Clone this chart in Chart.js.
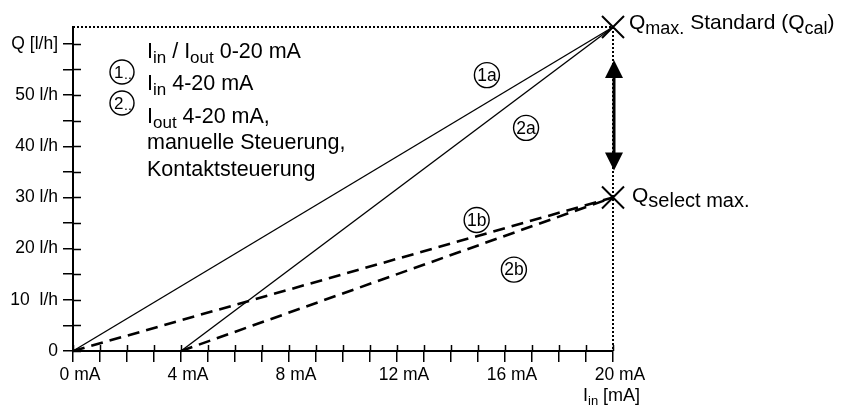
<!DOCTYPE html>
<html>
<head>
<meta charset="utf-8">
<script src="https://cdn.jsdelivr.net/npm/chart.js@4.4.0/dist/chart.umd.min.js"></script>
<style>
  html, body { margin: 0; padding: 0; background: #fff; }
  #wrap { width: 842px; height: 405px; }
</style>
</head>
<body>
<div id="wrap"><canvas id="chart" width="842" height="405"></canvas></div>
<script>
// current ranges (mA)
const currentFull = [0, 20];   // Iin / Iout 0-20 mA
const currentLive = [4, 20];   // Iin / Iout 4-20 mA
// flow at start and end of the range (l/h)
const flowStandard = [0, 63.3]; // Qmax. Standard (Qcal)
const flowSelect = [0, 30];     // Qselect max.

const xTickValues = [0, 1, 2, 3, 4, 5, 6, 7, 8, 9, 10, 11, 12, 13, 14, 15, 16, 17, 18, 19, 20];
const xTickLabels = ['0 mA', '4 mA', '8 mA', '12 mA', '16 mA', '20 mA'];
const yTickValues = [0, 5, 10, 15, 20, 25, 30, 35, 40, 45, 50, 55, 60];
const yTickLabels = ['0', '10  l/h', '20 l/h', '30 l/h', '40 l/h', '50 l/h', 'Q [l/h]'];

const FONT = "'Liberation Sans', Arial, sans-serif";

// circled curve names, placed in data units
const curveTags = [
  { text: '1a', x: 15.33, y: 53.9 },
  { text: '2a', x: 16.78, y: 43.6 },
  { text: '1b', x: 14.95, y: 25.6 },
  { text: '2b', x: 16.33, y: 15.9 }
];

function toPoints(xs, ys) {
  return xs.map((x, i) => ({ x: x, y: ys[i] }));
}

// text with subscripts: runs = [[text, isSub], ...]
function drawRuns(ctx, x, y, runs, size, subScale) {
  const subSize = Math.round(size * (subScale || 0.74));
  runs.forEach(r => {
    ctx.font = (r[1] ? subSize : size) + 'px ' + FONT;
    ctx.fillText(r[0], x, r[1] ? y + size * 0.24 : y);
    x += ctx.measureText(r[0]).width;
  });
}

function cross(ctx, x, y, s) {
  ctx.beginPath();
  ctx.moveTo(x - s, y - s); ctx.lineTo(x + s, y + s);
  ctx.moveTo(x - s, y + s); ctx.lineTo(x + s, y - s);
  ctx.stroke();
}

const overlay = {
  id: 'overlay',
  afterDraw(chart) {
    const ctx = chart.ctx;
    const xs = chart.scales.x, ys = chart.scales.y;
    const left = xs.left, bottom = ys.bottom;
    const xEnd = xs.getPixelForValue(currentFull[1]);
    const yMax = ys.getPixelForValue(flowStandard[1]);
    const ySel = ys.getPixelForValue(flowSelect[1]);
    ctx.save();
    ctx.strokeStyle = '#000';
    ctx.fillStyle = '#000';

    // inner part of the tick marks
    ctx.lineWidth = 1.5;
    ctx.beginPath();
    xTickValues.forEach(v => {
      const px = Math.round(xs.getPixelForValue(v)) + 0.5;
      ctx.moveTo(px, bottom); ctx.lineTo(px, bottom - 6);
    });
    yTickValues.forEach(v => {
      const py = Math.round(ys.getPixelForValue(v)) + 0.5;
      ctx.moveTo(left, py); ctx.lineTo(left + 8, py);
    });
    ctx.stroke();

    // dotted guides to Qmax
    ctx.lineWidth = 2;
    ctx.setLineDash([2, 2]);
    ctx.beginPath();
    ctx.moveTo(left, yMax); ctx.lineTo(xEnd, yMax);
    ctx.moveTo(xEnd, yMax); ctx.lineTo(xEnd, bottom);
    ctx.stroke();
    ctx.setLineDash([]);

    // end points
    ctx.lineWidth = 2;
    cross(ctx, xEnd, yMax, 11);
    cross(ctx, xEnd, ySel, 11);

    // double arrow between the two maxima
    const aTop = yMax + 33, aBot = ySel - 27, ax = xEnd + 1;
    ctx.lineWidth = 3;
    ctx.beginPath();
    ctx.moveTo(ax, aTop + 10); ctx.lineTo(ax, aBot - 10);
    ctx.stroke();
    ctx.beginPath();
    ctx.moveTo(ax, aTop); ctx.lineTo(ax - 9, aTop + 18); ctx.lineTo(ax + 9, aTop + 18); ctx.closePath();
    ctx.moveTo(ax, aBot); ctx.lineTo(ax - 9, aBot - 18); ctx.lineTo(ax + 9, aBot - 18); ctx.closePath();
    ctx.fill();

    // circled curve names
    ctx.lineWidth = 1.4;
    ctx.textAlign = 'center';
    ctx.textBaseline = 'middle';
    ctx.font = '17.5px ' + FONT;
    curveTags.forEach(t => {
      const px = xs.getPixelForValue(t.x), py = ys.getPixelForValue(t.y);
      ctx.beginPath();
      ctx.arc(px, py, 12.5, 0, Math.PI * 2);
      ctx.stroke();
      ctx.fillText(t.text, px, py + 1);
    });

    // legend
    ctx.textAlign = 'left';
    ctx.textBaseline = 'alphabetic';
    ctx.beginPath(); ctx.arc(122, 72, 12, 0, Math.PI * 2); ctx.stroke();
    ctx.beginPath(); ctx.arc(122, 103, 12, 0, Math.PI * 2); ctx.stroke();
    ctx.font = '17px ' + FONT;
    ctx.fillText('1', 114, 78);
    ctx.fillText('2', 114, 109);
    ctx.font = '14px ' + FONT;
    ctx.fillText('..', 124, 79);
    ctx.fillText('..', 124, 110);

    drawRuns(ctx, 147, 58, [['I', 0], ['in', 1], [' / I', 0], ['out', 1], [' 0-20 mA', 0]], 21.5, 0.78);
    drawRuns(ctx, 147, 90, [['I', 0], ['in', 1], [' 4-20 mA', 0]], 21.5, 0.78);
    drawRuns(ctx, 147, 123, [['I', 0], ['out', 1], [' 4-20 mA,', 0]], 21.5, 0.78);
    drawRuns(ctx, 147, 149, [['manuelle Steuerung,', 0]], 21.5);
    drawRuns(ctx, 147, 176, [['Kontaktsteuerung', 0]], 21.5);

    // point names and axis title
    drawRuns(ctx, xEnd + 16, yMax + 2, [['Q', 0], ['max.', 1], [' Standard (Q', 0], ['cal', 1], [')', 0]], 21, 0.85);
    drawRuns(ctx, xEnd + 19, ySel + 5, [['Q', 0], ['select max.', 1]], 21, 0.95);
    drawRuns(ctx, xEnd - 30, 401, [['I', 0], ['in', 1], [' [mA]', 0]], 18);

    ctx.restore();
  }
};

const lineStyle = { showLine: true, pointRadius: 0, borderColor: '#000', fill: false, clip: false };

new Chart(document.getElementById('chart'), {
  type: 'scatter',
  data: {
    datasets: [
      Object.assign({ label: '1a', data: toPoints(currentFull, flowStandard), borderWidth: 1.4 }, lineStyle),
      Object.assign({ label: '2a', data: toPoints(currentLive, flowStandard), borderWidth: 1.4 }, lineStyle),
      Object.assign({ label: '1b', data: toPoints(currentFull, flowSelect), borderWidth: 2.6, borderDash: [12, 7] }, lineStyle),
      Object.assign({ label: '2b', data: toPoints(currentLive, flowSelect), borderWidth: 2.6, borderDash: [12, 7] }, lineStyle)
    ]
  },
  options: {
    responsive: false,
    animation: false,
    devicePixelRatio: 1,
    layout: { padding: { top: 27, right: 229, left: 0, bottom: 0 } },
    plugins: { legend: { display: false }, tooltip: { enabled: false } },
    scales: {
      x: {
        type: 'linear',
        min: currentFull[0],
        max: currentFull[1],
        afterFit(s) { s.height = 54; },
        afterBuildTicks(s) { s.ticks = xTickValues.map(v => ({ value: v })); },
        border: { display: true, color: '#000', width: 2 },
        grid: { drawOnChartArea: false, drawTicks: true, tickLength: 11, color: '#000', lineWidth: 1.5 },
        ticks: {
          color: '#000',
          padding: 3,
          labelOffset: 7,
          maxRotation: 0,
          autoSkip: false,
          font: { family: FONT, size: 17.5 },
          callback: v => (v % 4 === 0 ? xTickLabels[v / 4] : '')
        }
      },
      y: {
        type: 'linear',
        min: flowStandard[0],
        max: flowStandard[1],
        afterFit(s) { s.width = 73; },
        afterBuildTicks(s) { s.ticks = yTickValues.map(v => ({ value: v })); },
        border: { display: true, color: '#000', width: 2 },
        grid: { drawOnChartArea: false, drawTicks: true, tickLength: 10, color: '#000', lineWidth: 1.5 },
        ticks: {
          color: '#000',
          padding: 5,
          autoSkip: false,
          font: { family: FONT, size: 17.5 },
          callback: v => (v % 10 === 0 ? yTickLabels[v / 10] : '')
        }
      }
    }
  },
  plugins: [overlay]
});
</script>
</body>
</html>
